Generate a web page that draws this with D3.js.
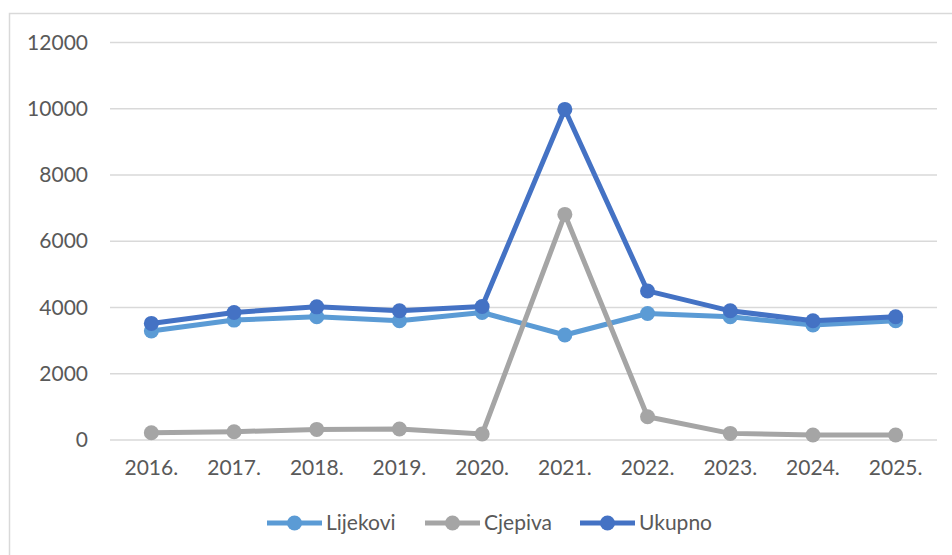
<!DOCTYPE html>
<html>
<head>
<meta charset="utf-8">
<script src="https://cdn.jsdelivr.net/npm/d3@7"></script>
<style>
  body { margin: 0; background: #fff; }
  svg text { font-family: Lato, "Open Sans", sans-serif; fill: #595959; }
</style>
</head>
<body>
<div id="chart"></div>
<script>
// years and series
var years = ["2016.", "2017.", "2018.", "2019.", "2020.", "2021.", "2022.", "2023.", "2024.", "2025."];
var lijekovi = [3290, 3620, 3720, 3600, 3850, 3170, 3820, 3720, 3470, 3600];
var cjepiva = [220, 250, 320, 330, 180, 6810, 700, 200, 150, 150];
var ukupno = [3520, 3850, 4020, 3900, 4030, 9980, 4500, 3900, 3600, 3720];
var yTicks = [0, 2000, 4000, 6000, 8000, 10000, 12000];

var seriesNames = ["Lijekovi", "Cjepiva", "Ukupno"];
var seriesColors = ["#5B9BD5", "#A5A5A5", "#4472C4"];
var seriesValues = [lijekovi, cjepiva, ukupno];

var width = 952, height = 555;
var margin = {top: 42.5, right: 15, bottom: 115, left: 110};
var plotW = width - margin.left - margin.right,
    plotH = height - margin.top - margin.bottom;

var svg = d3.select("#chart").append("svg")
    .attr("width", width)
    .attr("height", height);

// outer chart frame (only top and left visible in the crop)
svg.append("rect")
    .attr("x", 9.5).attr("y", 13.5)
    .attr("width", width + 20).attr("height", height + 20)
    .attr("fill", "none")
    .attr("stroke", "#d9d9d9")
    .attr("stroke-width", 1.5);

var g = svg.append("g")
    .attr("transform", "translate(" + margin.left + "," + margin.top + ")");

var x = d3.scaleBand()
    .domain(years)
    .range([0, plotW]);

var y = d3.scaleLinear()
    .domain([0, 12000])
    .range([plotH, 0]);

// gridlines
g.append("g")
    .selectAll("line")
    .data(yTicks)
    .enter().append("line")
    .attr("x1", 0).attr("x2", plotW)
    .attr("y1", function(d) { return y(d); })
    .attr("y2", function(d) { return y(d); })
    .attr("stroke", "#d9d9d9")
    .attr("stroke-width", 1.5);

// y axis labels
var yAxis = g.append("g")
    .call(d3.axisLeft(y).tickValues(yTicks).tickSize(0).tickPadding(22).tickFormat(d3.format("d")));
yAxis.select(".domain").remove();
yAxis.selectAll("text").style("font-size", "21px").attr("fill", "#595959");

// x axis labels
var xAxis = g.append("g")
    .attr("transform", "translate(0," + plotH + ")")
    .call(d3.axisBottom(x).tickSize(0).tickPadding(20));
xAxis.select(".domain").remove();
xAxis.selectAll("text").style("font-size", "21px").attr("fill", "#595959");

var line = d3.line()
    .x(function(d, i) { return x(years[i]) + x.bandwidth() / 2; })
    .y(function(d) { return y(d); });

seriesValues.forEach(function(vals, k) {
    var s = g.append("g");
    s.append("path")
        .datum(vals)
        .attr("d", line)
        .attr("fill", "none")
        .attr("stroke", seriesColors[k])
        .attr("stroke-width", 5)
        .attr("stroke-linejoin", "round");
    s.selectAll("circle")
        .data(vals)
        .enter().append("circle")
        .attr("cx", function(d, i) { return x(years[i]) + x.bandwidth() / 2; })
        .attr("cy", function(d) { return y(d); })
        .attr("r", 7.5)
        .attr("fill", seriesColors[k]);
});

// legend
var legendX = [267, 425, 580];
var legend = svg.append("g").attr("transform", "translate(0,523)");
seriesNames.forEach(function(name, k) {
    var item = legend.append("g").attr("transform", "translate(" + legendX[k] + ",0)");
    item.append("line")
        .attr("x1", 0).attr("x2", 55)
        .attr("stroke", seriesColors[k])
        .attr("stroke-width", 5);
    item.append("circle")
        .attr("cx", 27.5).attr("r", 7.5)
        .attr("fill", seriesColors[k]);
    item.append("text")
        .attr("x", 59)
        .attr("dy", "0.35em")
        .style("font-size", "21px")
        .text(name);
});
</script>
</body>
</html>
